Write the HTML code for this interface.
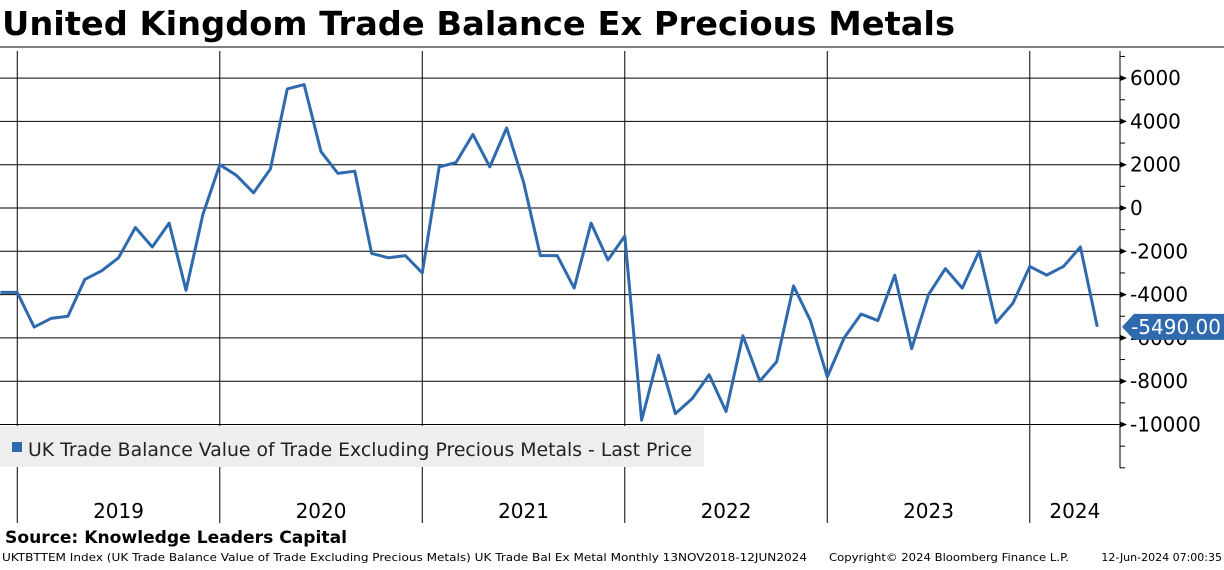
<!DOCTYPE html>
<html><head><meta charset="utf-8"><style>
body{margin:0;background:#fff;width:1224px;height:566px;overflow:hidden;font-family:"DejaVu Sans","Liberation Sans",sans-serif}
</style></head><body>
<svg width="1224" height="566" xmlns="http://www.w3.org/2000/svg">
<text x="2" y="35" font-size="33" font-weight="bold" textLength="953" lengthAdjust="spacingAndGlyphs" font-family="DejaVu Sans, Liberation Sans, sans-serif">United Kingdom Trade Balance Ex Precious Metals</text>
<line x1="0" y1="47" x2="1224" y2="47" stroke="#000" stroke-width="1"/>
<g id="grid"></g>
<g id="axis"></g>
<g id="series"></g>
<rect x="0" y="426" width="704" height="41" fill="#eeeeee"/>
<rect x="12" y="442" width="10" height="10" fill="#2e6aad"/>
<text x="28" y="456" font-size="19" fill="#222" textLength="664" lengthAdjust="spacingAndGlyphs">UK Trade Balance Value of Trade Excluding Precious Metals - Last Price</text>
<text x="5" y="543" font-size="17" font-weight="bold" textLength="342" lengthAdjust="spacingAndGlyphs">Source: Knowledge Leaders Capital</text>
<text x="2" y="561" font-size="11" textLength="805" lengthAdjust="spacingAndGlyphs">UKTBTTEM Index (UK Trade Balance Value  of Trade Excluding Precious Metals) UK Trade Bal Ex Metal  Monthly 13NOV2018-12JUN2024</text>
<text x="829" y="561" font-size="11" textLength="240" lengthAdjust="spacingAndGlyphs">Copyright© 2024 Bloomberg Finance L.P.</text>
<text x="1222" y="561" font-size="11" text-anchor="end">12-Jun-2024 07:00:35</text>
</svg>
<script>
const values=[-3900,-3900,-5500,-5100,-5000,-3300,-2900,-2300,-900,-1800,-700,-3800,-300,2000,1500,700,1800,5500,5700,2600,1600,1700,-2100,-2300,-2200,-3000,1900,2100,3400,1900,3700,1200,-2200,-2200,-3700,-700,-2400,-1300,-9800,-6800,-9500,-8800,-7700,-9400,-5900,-8000,-7100,-3600,-5200,-7800,-6000,-4900,-5200,-3100,-6500,-4000,-2800,-3700,-2000,-5300,-4400,-2700,-3100,-2700,-1800,-5490];
const yTicks=[6000,4000,2000,0,-2000,-4000,-6000,-8000,-10000];
const years=["2019","2020","2021","2022","2023","2024"];
const lastLabel="-5490.00";
const NS="http://www.w3.org/2000/svg";
const X=i=>0.4+i*16.875;
const Y=v=>208-v*43.3/2000;
function mk(t,a,p){const e=document.createElementNS(NS,t);for(const k in a)e.setAttribute(k,a[k]);p.appendChild(e);return e;}
const grid=document.getElementById('grid'),axis=document.getElementById('axis'),ser=document.getElementById('series');
yTicks.forEach(v=>{
 const l=mk('line',{x1:0,x2:1120,y1:Y(v),y2:Y(v),stroke:'#000','stroke-width':1},grid);
 
 
 mk('path',{d:`M1120 ${Y(v)-3}L1127 ${Y(v)}L1120 ${Y(v)+3}Z`,fill:'#000'},axis);
 const t=mk('text',{x:1130,y:Y(v)+7,'font-size':20},axis);t.textContent=v;
 
 
});
for(let v=-12000;v<=7000;v+=1000){mk('line',{x1:1120,x2:1125,y1:Y(v),y2:Y(v),stroke:'#000'},axis);}
mk('line',{x1:1120,x2:1120,y1:51,y2:468,stroke:'#000'},axis);
years.forEach((yr,k)=>{
 const x0=X(1+12*k);
 const l=mk('line',{x1:x0,x2:x0,y1:51,y2:523,stroke:'#000','stroke-width':1},grid);
 
 
 const x1=k<5?X(13+12*k):1120;
 const t=mk('text',{x:(x0+x1)/2,y:518,'font-size':20,'text-anchor':'middle'},axis);t.textContent=yr;
 
 
});
const p=mk('polyline',{points:values.map((v,i)=>X(i)+','+Y(v)).join(' '),fill:'none',stroke:'#2e6aad','stroke-width':3,'stroke-linejoin':'round'},ser);


const ly=Y(values[values.length-1]);
const b=mk('path',{d:`M1122 ${ly}L1134 ${ly-13}H1224V${ly+13}H1134Z`,fill:'#2e6aad'},ser);


const bt=mk('text',{x:1221,y:ly+7,'font-size':20,fill:'#fff','text-anchor':'end'},ser);bt.textContent=lastLabel;


</script>
</body></html>
